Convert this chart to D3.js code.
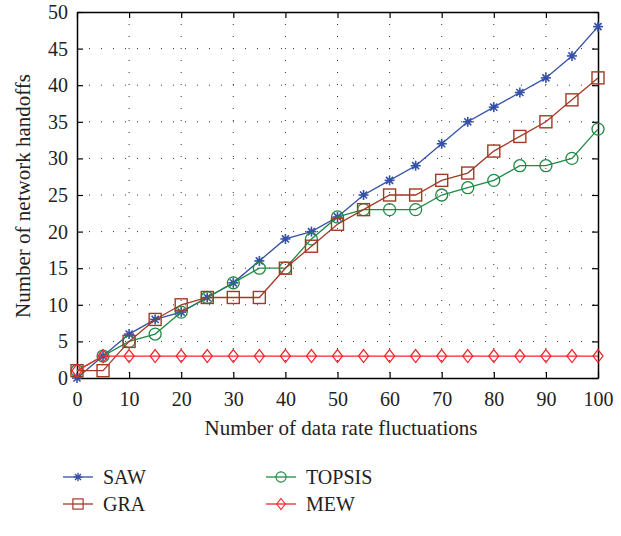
<!DOCTYPE html>
<html>
<head>
<meta charset="utf-8">
<script src="https://cdn.jsdelivr.net/npm/d3@7"></script>
<style>
  html, body { margin: 0; padding: 0; background: #fff; }
  svg { display: block; font-family: "Liberation Serif", "Times New Roman", serif; }
</style>
</head>
<body>
<svg id="chart" width="621" height="536"></svg>
<script>
// Data: number of network handoffs vs. number of data rate fluctuations
const xValues = [0, 5, 10, 15, 20, 25, 30, 35, 40, 45, 50, 55, 60, 65, 70, 75, 80, 85, 90, 95, 100];
const sawValues    = [0, 3, 6, 8, 9, 11, 13, 16, 19, 20, 22, 25, 27, 29, 32, 35, 37, 39, 41, 44, 48];
const graValues    = [1, 1, 5, 8, 10, 11, 11, 11, 15, 18, 21, 23, 25, 25, 27, 28, 31, 33, 35, 38, 41];
const topsisValues = [1, 3, 5, 6, 9, 11, 13, 15, 15, 19, 22, 23, 23, 23, 25, 26, 27, 29, 29, 30, 34];
const mewValues    = [1, 3, 3, 3, 3, 3, 3, 3, 3, 3, 3, 3, 3, 3, 3, 3, 3, 3, 3, 3, 3];
const xTicks = [0, 10, 20, 30, 40, 50, 60, 70, 80, 90, 100];
const yTicks = [0, 5, 10, 15, 20, 25, 30, 35, 40, 45, 50];

const seriesList = [
  { name: "SAW",    values: sawValues,    color: "#3550a8", marker: "star" },
  { name: "GRA",    values: graValues,    color: "#a33a26", marker: "square" },
  { name: "TOPSIS", values: topsisValues, color: "#1f8a45", marker: "circle" },
  { name: "MEW",    values: mewValues,    color: "#f5262b", marker: "diamond" }
];

const svg = d3.select("#chart");
const plot = { left: 77, right: 598, top: 12, bottom: 378 };

const x = d3.scaleLinear().domain([0, 100]).range([plot.left, plot.right]);
const y = d3.scaleLinear().domain([0, 50]).range([plot.bottom, plot.top]);

// Dotted grid
const grid = svg.append("g");
grid.selectAll("line.vg").data(xTicks.slice(1, -1)).join("line")
  .attr("x1", d => x(d)).attr("x2", d => x(d))
  .attr("y1", plot.top).attr("y2", plot.bottom)
  .attr("stroke", "#333").attr("stroke-width", 1)
  .attr("stroke-dasharray", "1,11");
grid.selectAll("line.hg").data(yTicks.slice(1, -1)).join("line")
  .attr("x1", plot.left).attr("x2", plot.right)
  .attr("y1", d => y(d)).attr("y2", d => y(d))
  .attr("stroke", "#333").attr("stroke-width", 1)
  .attr("stroke-dasharray", "1,11");

// Axes with inward ticks on all four sides
const fontSize = 20;
const bottomAxis = d3.axisBottom(x).tickValues(xTicks).tickSizeInner(-6).tickSizeOuter(0).tickPadding(14);
const leftAxis = d3.axisLeft(y).tickValues(yTicks).tickSizeInner(-6).tickSizeOuter(0).tickPadding(9);
const topAxis = d3.axisTop(x).tickValues(xTicks).tickSizeInner(-6).tickSizeOuter(0).tickFormat("");
const rightAxis = d3.axisRight(y).tickValues(yTicks).tickSizeInner(-6).tickSizeOuter(0).tickFormat("");

function styleAxis(g) {
  g.select(".domain").attr("stroke", "#000").attr("stroke-width", 1.5);
  g.selectAll(".tick line").attr("stroke", "#000").attr("stroke-width", 1.2);
  g.selectAll(".tick text").attr("font-size", fontSize).attr("fill", "#222")
    .attr("font-family", "Liberation Serif, serif");
}
svg.append("g").attr("transform", `translate(0,${plot.bottom})`).call(bottomAxis).call(styleAxis);
svg.append("g").attr("transform", `translate(${plot.left},0)`).call(leftAxis).call(styleAxis);
svg.append("g").attr("transform", `translate(0,${plot.top})`).call(topAxis).call(styleAxis);
svg.append("g").attr("transform", `translate(${plot.right},0)`).call(rightAxis).call(styleAxis);

// Marker drawing
function drawMarker(g, type, color) {
  if (type === "star") {
    const r = 5;
    for (let i = 0; i < 4; i++) {
      const a = i * Math.PI / 4;
      g.append("line")
        .attr("x1", -r * Math.cos(a)).attr("y1", -r * Math.sin(a))
        .attr("x2", r * Math.cos(a)).attr("y2", r * Math.sin(a))
        .attr("stroke", color).attr("stroke-width", 1.6);
    }
    g.append("circle").attr("r", 2.2).attr("fill", color);
  } else if (type === "square") {
    g.append("rect").attr("x", -6).attr("y", -6).attr("width", 12).attr("height", 12)
      .attr("fill", "none").attr("stroke", color).attr("stroke-width", 1.4);
  } else if (type === "circle") {
    g.append("circle").attr("r", 6).attr("fill", "none").attr("stroke", color).attr("stroke-width", 1.3);
  } else if (type === "diamond") {
    g.append("path").attr("d", "M0,-6.5L5,0L0,6.5L-5,0Z")
      .attr("fill", "none").attr("stroke", color).attr("stroke-width", 1.3);
  }
}

const line = d3.line().x((d, i) => x(xValues[i])).y(d => y(d));

// Draw series (MEW on top of the others near the origin)
const drawOrder = [seriesList[0], seriesList[2], seriesList[1], seriesList[3]];
drawOrder.forEach(s => {
  const g = svg.append("g");
  g.append("path").datum(s.values).attr("d", line)
    .attr("fill", "none").attr("stroke", s.color).attr("stroke-width", 1.3);
  s.values.forEach((v, i) => {
    const m = g.append("g").attr("transform", `translate(${x(xValues[i])},${y(v)})`);
    drawMarker(m, s.marker, s.color);
  });
});

// Axis titles
svg.append("text").attr("x", 341).attr("y", 435)
  .attr("text-anchor", "middle").attr("font-size", 21).attr("fill", "#222")
  .text("Number of data rate fluctuations");
svg.append("text")
  .attr("transform", `translate(30,196) rotate(-90)`)
  .attr("text-anchor", "middle").attr("font-size", 21).attr("fill", "#222")
  .text("Number of network handoffs");

// Legend
const legendPos = [
  { lx: 63, ly: 477 },
  { lx: 63, ly: 504 },
  { lx: 266, ly: 477 },
  { lx: 266, ly: 504 }
];
seriesList.forEach((s, i) => {
  const p = legendPos[i];
  const g = svg.append("g");
  g.append("line").attr("x1", p.lx).attr("x2", p.lx + 30).attr("y1", p.ly).attr("y2", p.ly)
    .attr("stroke", s.color).attr("stroke-width", 1.3);
  const m = g.append("g").attr("transform", `translate(${p.lx + 15},${p.ly}) scale(0.85)`);
  drawMarker(m, s.marker, s.color);
  g.append("text").attr("x", p.lx + 40).attr("y", p.ly + 7)
    .attr("font-size", 20).attr("fill", "#222").text(s.name);
});
</script>
</body>
</html>
